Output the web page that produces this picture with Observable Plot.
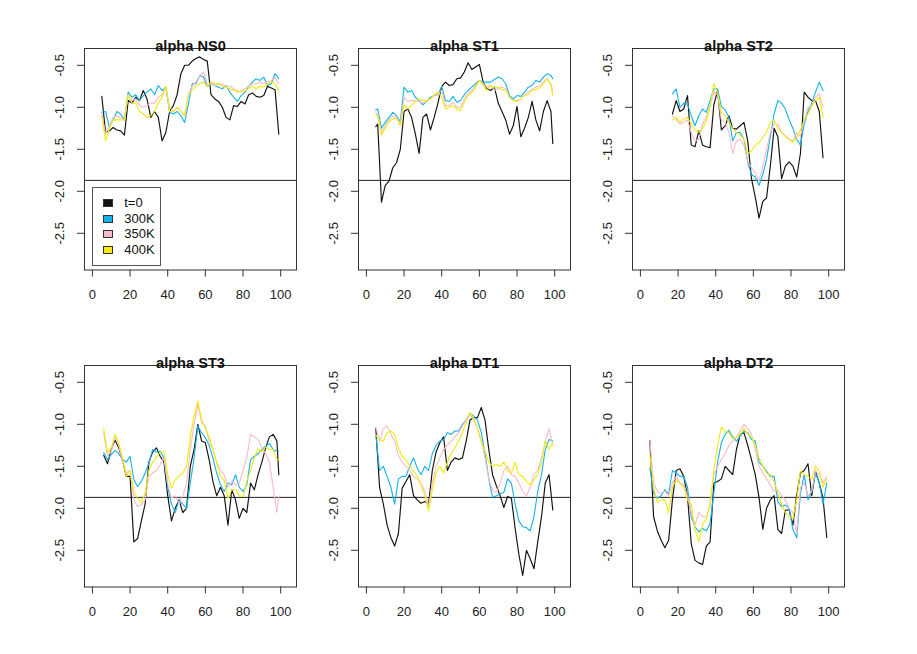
<!DOCTYPE html>
<html><head><meta charset="utf-8">
<script src="https://cdn.jsdelivr.net/npm/d3@7"></script>
<script src="https://cdn.jsdelivr.net/npm/@observablehq/plot@0.6"></script>
<style>
body{margin:0;background:#fff;font-family:"Liberation Sans",Arial,Helvetica,sans-serif;}
#chart{position:relative;width:917px;height:654px;overflow:hidden;background:#fff;}
.panel{position:absolute;}
.legend{position:absolute;border:1px solid #555;box-sizing:border-box;background:#fff;}
.legend .sw{position:absolute;width:10px;height:8px;box-sizing:border-box;border:1px solid #333;}
.legend .lb{position:absolute;font-size:13px;line-height:13px;color:#111;white-space:nowrap;}
</style></head><body><div id="chart"></div>
<script>
// ---- labels ----
const panelTitles = ["alpha NS0","alpha ST1","alpha ST2","alpha ST3","alpha DT1","alpha DT2"];
const seriesNames = ["t=0","300K","350K","400K"];
const xTicks = [0,20,40,60,80,100];
const yTicks = [-2.5,-2.0,-1.5,-1.0,-0.5];
const refLine = -1.87;

// ---- x grids (position index along the sequence) ----
const xNS0 = d3.range(5,100,2);
const xST1 = [5, ...d3.range(6,99,2), 99];
const xST2 = d3.range(17,98,2);
const xST3 = [...d3.range(6,99,2), 99];
const xDT1 = d3.range(5,100,2);
const xDT2 = d3.range(5,100,2);

// ---- alpha NS0 ----
const ns0_t0 = [-0.87,-1.30,-1.28,-1.24,-1.27,-1.28,-1.33,-0.92,-0.95,-0.88,-0.92,-0.80,-0.90,-1.12,-1.05,-1.12,-1.40,-1.30,-1.05,-0.98,-0.85,-0.60,-0.50,-0.50,-0.45,-0.42,-0.40,-0.43,-0.45,-0.85,-0.90,-0.93,-1.00,-1.12,-1.15,-0.98,-0.99,-0.93,-0.96,-0.85,-0.83,-0.87,-0.88,-0.86,-0.75,-0.77,-0.79,-1.32];
const ns0_300 = [-1.06,-1.05,-1.24,-1.15,-1.05,-1.08,-1.15,-0.82,-0.88,-0.85,-0.92,-0.86,-0.82,-0.78,-0.85,-0.74,-0.80,-0.76,-1.06,-1.08,-1.05,-1.10,-1.18,-0.96,-0.72,-0.72,-0.62,-0.64,-0.75,-0.72,-0.74,-0.76,-0.78,-0.74,-0.82,-0.88,-0.93,-0.86,-0.82,-0.75,-0.70,-0.66,-0.68,-0.64,-0.74,-0.72,-0.60,-0.66];
const ns0_350 = [-1.08,-1.32,-1.22,-1.12,-1.10,-1.12,-1.15,-0.85,-0.92,-0.90,-0.98,-1.00,-0.98,-0.95,-0.95,-0.88,-0.85,-0.75,-1.00,-1.05,-1.00,-1.05,-1.10,-0.85,-0.75,-0.70,-0.62,-0.58,-0.72,-0.72,-0.74,-0.72,-0.73,-0.75,-0.75,-0.78,-0.82,-0.80,-0.78,-0.75,-0.72,-0.72,-0.70,-0.72,-0.70,-0.68,-0.65,-0.72];
const ns0_400 = [-1.10,-1.40,-1.25,-1.15,-1.15,-1.15,-1.15,-0.85,-0.95,-0.95,-1.05,-1.08,-1.12,-1.10,-1.05,-0.95,-0.88,-0.75,-1.05,-1.05,-1.00,-1.05,-1.10,-0.85,-0.80,-0.75,-0.72,-0.70,-0.75,-0.70,-0.72,-0.72,-0.75,-0.76,-0.78,-0.80,-0.80,-0.82,-0.80,-0.78,-0.75,-0.78,-0.75,-0.76,-0.72,-0.70,-0.72,-0.80];

// ---- alpha ST1 ----
const st1_t0 = [-1.23,-1.20,-2.13,-1.93,-1.88,-1.72,-1.66,-1.50,-1.05,-1.02,-1.12,-1.32,-1.55,-1.12,-1.08,-1.27,-1.12,-0.95,-0.75,-0.70,-0.74,-0.73,-0.66,-0.65,-0.58,-0.47,-0.55,-0.52,-0.49,-0.70,-0.78,-0.80,-0.76,-0.95,-1.05,-1.15,-1.32,-1.22,-0.99,-1.35,-1.25,-1.12,-0.93,-1.15,-1.28,-1.05,-0.92,-1.05,-1.43];
const st1_300 = [-1.03,-1.02,-1.25,-1.18,-1.12,-1.06,-1.10,-1.17,-0.76,-0.82,-0.80,-0.88,-0.92,-0.97,-0.93,-0.88,-0.86,-0.85,-0.75,-0.92,-0.93,-0.87,-0.94,-0.92,-0.85,-0.80,-0.76,-0.72,-0.68,-0.70,-0.70,-0.70,-0.67,-0.64,-0.66,-0.72,-0.86,-0.90,-0.86,-0.87,-0.82,-0.76,-0.74,-0.68,-0.70,-0.64,-0.60,-0.62,-0.66];
const st1_350 = [-1.07,-1.08,-1.30,-1.22,-1.15,-1.10,-1.12,-1.20,-0.88,-0.93,-0.92,-0.92,-0.93,-0.95,-0.93,-0.90,-0.86,-0.84,-0.80,-0.98,-0.98,-0.94,-1.00,-1.00,-0.90,-0.84,-0.80,-0.74,-0.68,-0.72,-0.76,-0.74,-0.80,-0.78,-0.76,-0.78,-0.88,-0.92,-0.92,-0.90,-0.85,-0.82,-0.78,-0.76,-0.74,-0.70,-0.66,-0.72,-0.80];
const st1_400 = [-1.09,-1.10,-1.33,-1.25,-1.17,-1.14,-1.13,-1.22,-0.97,-1.02,-0.98,-0.93,-0.90,-0.92,-0.92,-0.90,-0.85,-0.82,-0.88,-1.02,-1.00,-0.98,-1.02,-1.04,-0.94,-0.86,-0.82,-0.76,-0.68,-0.73,-0.80,-0.74,-0.77,-0.76,-0.79,-0.80,-0.88,-0.92,-0.93,-0.90,-0.86,-0.85,-0.80,-0.79,-0.77,-0.72,-0.66,-0.74,-0.86];

// ---- alpha ST2 ----
const st2_t0 = [-1.08,-0.92,-1.05,-1.02,-0.86,-1.45,-1.47,-1.28,-1.45,-1.47,-1.48,-0.97,-0.80,-1.27,-1.22,-1.10,-1.25,-1.26,-1.22,-1.18,-1.40,-1.85,-2.07,-2.32,-2.12,-2.08,-1.70,-1.25,-1.35,-1.85,-1.70,-1.65,-1.70,-1.83,-1.55,-0.82,-0.88,-0.92,-0.92,-1.05,-1.60];
const st2_300 = [-0.84,-0.78,-1.00,-0.95,-0.96,-1.10,-1.22,-1.10,-1.02,-1.06,-0.92,-0.78,-0.78,-0.99,-1.03,-1.12,-1.40,-1.30,-1.30,-1.38,-1.66,-1.80,-1.83,-1.93,-1.80,-1.62,-1.35,-1.08,-0.92,-0.95,-1.02,-1.15,-1.25,-1.38,-1.45,-1.20,-1.05,-0.95,-0.82,-0.70,-0.80];
const st2_350 = [-1.10,-1.15,-1.20,-1.18,-1.15,-1.30,-1.40,-1.38,-1.20,-1.12,-0.98,-0.82,-0.85,-1.15,-1.18,-1.30,-1.55,-1.40,-1.38,-1.45,-1.65,-1.72,-1.78,-1.88,-1.70,-1.50,-1.30,-1.20,-1.20,-1.30,-1.34,-1.38,-1.40,-1.30,-1.35,-1.15,-1.00,-0.98,-0.88,-0.84,-1.00];
const st2_400 = [-1.15,-1.12,-1.18,-1.14,-1.12,-1.20,-1.27,-1.30,-1.25,-1.16,-1.00,-0.72,-0.82,-1.06,-1.10,-1.18,-1.25,-1.30,-1.33,-1.38,-1.55,-1.52,-1.45,-1.42,-1.36,-1.30,-1.18,-1.15,-1.25,-1.30,-1.35,-1.38,-1.42,-1.36,-1.27,-1.15,-1.08,-0.99,-0.92,-0.88,-1.12];

// ---- alpha ST3 ----
const st3_t0 = [-1.37,-1.47,-1.30,-1.19,-1.28,-1.43,-1.62,-1.62,-2.40,-2.36,-2.15,-1.95,-1.45,-1.33,-1.28,-1.38,-1.45,-1.85,-2.15,-2.00,-1.90,-2.05,-2.00,-1.50,-1.30,-1.00,-1.20,-1.22,-1.42,-1.68,-1.85,-1.75,-1.85,-2.20,-1.78,-1.90,-2.12,-2.00,-2.05,-1.70,-1.78,-1.60,-1.45,-1.28,-1.15,-1.12,-1.20,-1.60];
const st3_300 = [-1.34,-1.42,-1.36,-1.31,-1.35,-1.42,-1.45,-1.38,-1.66,-1.74,-1.68,-1.58,-1.46,-1.30,-1.33,-1.32,-1.40,-1.75,-1.95,-2.05,-1.90,-1.95,-2.00,-1.70,-1.40,-1.02,-1.10,-1.16,-1.25,-1.40,-1.58,-1.72,-1.80,-1.70,-1.72,-1.60,-1.75,-1.80,-1.72,-1.42,-1.38,-1.35,-1.30,-1.26,-1.23,-1.30,-1.32,-1.32];
const st3_350 = [-1.10,-1.38,-1.32,-1.15,-1.25,-1.45,-1.58,-1.55,-1.90,-1.98,-1.96,-1.90,-1.62,-1.58,-1.55,-1.48,-1.40,-1.70,-1.88,-1.85,-1.95,-1.85,-1.70,-1.30,-1.00,-0.76,-0.98,-1.02,-1.20,-1.30,-1.45,-1.55,-1.60,-1.75,-1.68,-1.72,-1.70,-1.55,-1.40,-1.12,-1.15,-1.18,-1.28,-1.35,-1.45,-1.75,-2.05,-1.85];
const st3_400 = [-1.05,-1.34,-1.28,-1.12,-1.22,-1.40,-1.62,-1.55,-1.80,-1.88,-1.93,-1.82,-1.55,-1.45,-1.40,-1.33,-1.33,-1.60,-1.76,-1.66,-1.62,-1.58,-1.50,-1.15,-0.90,-0.72,-0.95,-1.05,-1.15,-1.30,-1.45,-1.62,-1.67,-1.88,-1.78,-1.78,-1.85,-1.86,-1.68,-1.55,-1.40,-1.29,-1.33,-1.27,-1.30,-1.30,-1.42,-1.42];

// ---- alpha DT1 ----
const dt1_t0 = [-1.05,-1.75,-1.95,-2.20,-2.35,-2.45,-2.30,-1.76,-1.68,-1.60,-1.85,-1.90,-1.94,-1.92,-1.95,-1.55,-1.33,-1.22,-1.15,-1.55,-1.45,-1.40,-1.42,-1.40,-1.20,-0.95,-0.92,-0.92,-0.80,-0.95,-1.30,-1.60,-1.73,-1.85,-1.99,-1.86,-1.88,-2.24,-2.55,-2.80,-2.50,-2.60,-2.72,-2.40,-2.10,-1.70,-1.60,-2.02];
const dt1_300 = [-1.13,-1.55,-1.50,-1.62,-1.75,-1.95,-1.65,-1.62,-1.62,-1.50,-1.40,-1.52,-1.60,-1.50,-1.55,-1.35,-1.25,-1.20,-1.18,-1.10,-1.12,-1.08,-1.08,-1.00,-0.95,-0.87,-0.90,-0.95,-1.10,-1.35,-1.65,-1.87,-1.85,-1.83,-1.81,-1.65,-1.70,-1.95,-2.15,-2.22,-2.23,-2.27,-2.10,-1.80,-1.60,-1.30,-1.18,-1.20];
const dt1_350 = [-1.03,-1.20,-1.05,-1.02,-1.12,-1.20,-1.38,-1.45,-1.50,-1.55,-1.62,-1.65,-1.70,-1.80,-1.98,-1.70,-1.50,-1.40,-1.30,-1.25,-1.20,-1.15,-1.10,-1.02,-0.95,-0.88,-0.95,-1.05,-1.20,-1.40,-1.65,-1.78,-1.82,-1.70,-1.55,-1.50,-1.60,-1.62,-1.70,-1.80,-1.85,-1.75,-1.60,-1.55,-1.40,-1.20,-1.05,-1.25];
const dt1_400 = [-1.13,-1.18,-1.20,-1.10,-1.08,-1.12,-1.28,-1.38,-1.42,-1.50,-1.55,-1.62,-1.72,-1.85,-2.03,-1.78,-1.58,-1.50,-1.58,-1.45,-1.35,-1.28,-1.20,-1.10,-0.98,-0.86,-0.93,-1.05,-1.20,-1.32,-1.45,-1.50,-1.48,-1.50,-1.45,-1.55,-1.58,-1.45,-1.60,-1.62,-1.68,-1.72,-1.66,-1.60,-1.45,-1.20,-1.30,-1.22];

// ---- alpha DT2 ----
const dt2_t0 = [-1.19,-2.10,-2.27,-2.38,-2.47,-2.38,-1.90,-1.55,-1.53,-1.62,-1.85,-2.42,-2.62,-2.65,-2.67,-2.45,-2.40,-1.70,-1.68,-1.65,-1.50,-1.55,-1.60,-1.30,-1.12,-1.10,-1.25,-1.42,-1.60,-1.87,-2.25,-2.00,-1.90,-1.85,-2.25,-2.30,-2.02,-2.02,-2.20,-1.85,-1.58,-1.55,-1.47,-1.85,-1.56,-1.70,-1.88,-2.35];
const dt2_300 = [-1.52,-1.82,-1.88,-1.85,-1.78,-1.83,-1.55,-1.58,-1.62,-1.62,-1.75,-2.10,-2.22,-2.28,-2.24,-2.27,-2.18,-1.82,-1.45,-1.22,-1.12,-1.07,-1.15,-1.20,-1.14,-1.08,-1.10,-1.18,-1.20,-1.45,-1.50,-1.56,-1.62,-1.62,-1.92,-1.98,-1.96,-2.00,-2.25,-2.35,-1.82,-1.60,-1.90,-1.80,-1.58,-1.70,-1.95,-1.70];
const dt2_350 = [-1.19,-1.70,-1.80,-1.82,-1.80,-1.85,-1.70,-1.62,-1.70,-1.72,-1.85,-2.05,-2.20,-2.05,-2.10,-2.10,-1.98,-1.60,-1.50,-1.42,-1.35,-1.25,-1.20,-1.15,-1.08,-1.00,-1.05,-1.12,-1.30,-1.50,-1.58,-1.65,-1.72,-1.80,-1.78,-1.85,-1.90,-2.00,-2.05,-2.30,-1.75,-1.70,-1.85,-1.80,-1.55,-1.60,-1.70,-1.62];
const dt2_400 = [-1.36,-1.75,-1.93,-1.90,-1.90,-2.05,-1.75,-1.66,-1.70,-1.75,-1.90,-1.95,-2.25,-2.40,-2.20,-2.12,-1.95,-1.55,-1.25,-1.03,-1.08,-1.10,-1.17,-1.16,-1.12,-1.05,-1.12,-1.15,-1.25,-1.40,-1.50,-1.58,-1.60,-1.68,-1.82,-1.95,-2.05,-2.10,-2.12,-1.90,-1.55,-1.60,-1.62,-1.65,-1.50,-1.55,-1.75,-1.65];

// ---- styling ----
const seriesColors = ["#111111","#14b2e8","#f7bcc8","#f2ea0c"];
const FONT = '"Liberation Sans", Arial, Helvetica, sans-serif';

const panelData = [
  [xNS0, [ns0_t0, ns0_300, ns0_350, ns0_400]],
  [xST1, [st1_t0, st1_300, st1_350, st1_400]],
  [xST2, [st2_t0, st2_300, st2_350, st2_400]],
  [xST3, [st3_t0, st3_300, st3_350, st3_400]],
  [xDT1, [dt1_t0, dt1_300, dt1_350, dt1_400]],
  [xDT2, [dt2_t0, dt2_300, dt2_350, dt2_400]]
];

const boxLefts = [83.8, 358.0, 632.4];
const boxTops = [48.3, 364.6];
const BW = 212, BH = 221.5;
const ML = 70, MT = 40, MR = 14, MB = 50;
const chart = document.getElementById("chart");

panelData.forEach(([xs, series], i) => {
  const col = i % 3, row = Math.floor(i / 3);
  const rows = [];
  series.forEach((vals, s) => vals.forEach((v, j) => rows.push({x: xs[j], y: v, s})));
  const marks = [Plot.ruleY([refLine], {stroke: "#222", strokeWidth: 1})];
  [0,1,2,3].forEach(s => {
    marks.push(Plot.line(rows.filter(r => r.s === s), {x: "x", y: "y", stroke: seriesColors[s], strokeWidth: s === 0 ? 1.15 : 1.1}));
  });
  marks.push(
    Plot.frame({stroke: "#333", strokeWidth: 1}),
    Plot.axisX(xTicks, {tickSize: 7, tickPadding: 13, fontSize: 13, label: null, tickFormat: d => String(d), stroke: "#333", fill: "#222"}),
    Plot.axisY(yTicks, {tickSize: 7, tickPadding: 14, tickRotate: -90, fontSize: 13, label: null, tickFormat: d => d.toFixed(1), stroke: "#333", fill: "#222"}),
    Plot.text([panelTitles[i]], {text: d => d, frameAnchor: "top", dy: -8, fontWeight: "bold", fontSize: 14.6, fill: "#111"})
  );
  const svg = Plot.plot({
    width: BW + ML + MR, height: BH + MT + MB,
    marginLeft: ML, marginTop: MT, marginRight: MR, marginBottom: MB,
    x: {domain: [-4.2, 108.4]},
    y: {domain: [-2.937, -0.30]},
    style: {fontFamily: FONT, background: "transparent", overflow: "visible", color: "#222"},
    marks
  });
  const div = document.createElement("div");
  div.className = "panel";
  div.style.left = (boxLefts[col] - ML) + "px";
  div.style.top = (boxTops[row] - MT) + "px";
  div.appendChild(svg);
  chart.appendChild(div);
});

// legend (inside first panel, bottom-left)
const lg = document.createElement("div");
lg.className = "legend";
Object.assign(lg.style, {left: "91.7px", top: "186.7px", width: "69.5px", height: "79.5px"});
seriesNames.forEach((name, s) => {
  const cy = 15.5 + s * 15.6;
  const sw = document.createElement("div");
  sw.className = "sw";
  Object.assign(sw.style, {left: "10px", top: (cy - 4) + "px", background: seriesColors[s]});
  const lb = document.createElement("div");
  lb.className = "lb";
  lb.textContent = name;
  Object.assign(lb.style, {left: "31.5px", top: (cy - 7) + "px"});
  lg.appendChild(sw); lg.appendChild(lb);
});
chart.appendChild(lg);
</script>
</body></html>
